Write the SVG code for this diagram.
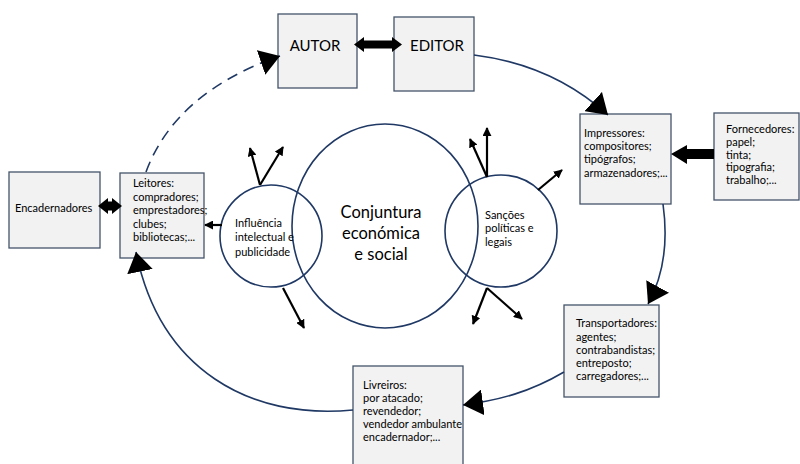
<svg xmlns="http://www.w3.org/2000/svg" width="800" height="464" viewBox="0 0 800 464">
  <defs>
    <style>
      .box { fill: #f2f2f2; stroke: #44546a; stroke-width: 1.3; }
      .ring { fill: none; stroke: #1f3864; stroke-width: 1.6; }
      .flow { fill: none; stroke: #1f3864; stroke-width: 1.6; }
      .ray { stroke: #000; stroke-width: 2.2; fill: none; marker-end: url(#tip); }
      .lbl { font-family: Lato, "Open Sans", "Liberation Sans", sans-serif; font-size: 11px; fill: #000; }
      .head { font-family: Lato, "Open Sans", "Liberation Sans", sans-serif; font-size: 15px; fill: #000; }
      .core { font-family: Lato, "Open Sans", "Liberation Sans", sans-serif; font-size: 16.5px; fill: #000; }
      .block { fill: #000; }
    </style>
    <marker id="tip" viewBox="0 0 10 10" refX="9" refY="5" markerWidth="9" markerHeight="9" markerUnits="userSpaceOnUse" orient="auto">
      <path d="M0,0 L10,5 L0,10 z" fill="#000"/>
    </marker>
    <marker id="big" viewBox="0 0 20 26" refX="20" refY="13" markerWidth="20" markerHeight="26" markerUnits="userSpaceOnUse" orient="auto">
      <path d="M0,0 L20,13 L0,26 z" fill="#000"/>
    </marker>
  </defs>

  <rect width="800" height="464" fill="#fff"/>

  <!-- circles -->
  <g id="conjuntura">
    <ellipse class="ring" cx="385" cy="226" rx="93" ry="102"/>
    <text class="core" text-anchor="middle"><tspan x="381" y="218">Conjuntura</tspan><tspan x="381" y="239">económica</tspan><tspan x="381" y="260">e social</tspan></text>
  </g>
  <g id="influencia">
    <circle class="ring" cx="271" cy="236" r="51"/>
    <text class="lbl"><tspan x="235" y="227">Influência</tspan><tspan x="235" y="241">intelectual e</tspan><tspan x="235" y="256">publicidade</tspan></text>
  </g>
  <g id="sancoes">
    <circle class="ring" cx="501" cy="231" r="56"/>
    <text class="lbl"><tspan x="485" y="219">Sanções</tspan><tspan x="485" y="232">políticas e</tspan><tspan x="485" y="246">legais</tspan></text>
  </g>

  <!-- boxes -->
  <g id="autor">
    <rect class="box" x="278" y="14" width="79" height="74"/>
    <text class="head" x="315" y="51" text-anchor="middle">AUTOR</text>
  </g>
  <g id="editor">
    <rect class="box" x="394" y="17" width="80" height="74"/>
    <text class="head" x="437" y="51" text-anchor="middle">EDITOR</text>
  </g>
  <g id="impressores">
    <rect class="box" x="580" y="114" width="91" height="90"/>
    <text class="lbl"><tspan x="584" y="137">Impressores:</tspan><tspan x="584" y="150">compositores;</tspan><tspan x="584" y="163">tipógrafos;</tspan><tspan x="584" y="177">armazenadores;...</tspan></text>
  </g>
  <g id="fornecedores">
    <rect class="box" x="714" y="113" width="85" height="87"/>
    <text class="lbl"><tspan x="726" y="133">Fornecedores:</tspan><tspan x="726" y="146">papel;</tspan><tspan x="726" y="159">tinta;</tspan><tspan x="726" y="171">tipografia;</tspan><tspan x="726" y="184">trabalho;...</tspan></text>
  </g>
  <g id="transportadores">
    <rect class="box" x="564" y="305" width="95" height="92"/>
    <text class="lbl"><tspan x="576" y="327">Transportadores:</tspan><tspan x="576" y="341">agentes;</tspan><tspan x="576" y="354">contrabandistas;</tspan><tspan x="576" y="367">entreposto;</tspan><tspan x="576" y="380">carregadores;...</tspan></text>
  </g>
  <g id="livreiros">
    <rect class="box" x="353" y="366" width="110" height="110"/>
    <text class="lbl"><tspan x="363" y="389">Livreiros:</tspan><tspan x="363" y="402">por atacado;</tspan><tspan x="363" y="415">revendedor;</tspan><tspan x="363" y="428">vendedor ambulante</tspan><tspan x="363" y="441">encadernador;...</tspan></text>
  </g>
  <g id="leitores">
    <rect class="box" x="120" y="173" width="84" height="85"/>
    <text class="lbl"><tspan x="133" y="187">Leitores:</tspan><tspan x="133" y="201">compradores;</tspan><tspan x="133" y="214">emprestadores;</tspan><tspan x="133" y="228">clubes;</tspan><tspan x="133" y="241">bibliotecas;...</tspan></text>
  </g>
  <g id="encadernadores">
    <rect class="box" x="9" y="172" width="91" height="76"/>
    <text class="lbl" x="15" y="212">Encadernadores</text>
  </g>

  <!-- connectors -->
  <g id="connectors">
    <path class="flow" d="M474,55 C530,62 575,85 608,115" marker-end="url(#big)"/>
    <path class="flow" d="M663,204 C668,240 664,275 648,304" marker-end="url(#big)"/>
    <path class="flow" d="M564,372 C530,392 500,400 463,405" marker-end="url(#big)"/>
    <path class="flow" d="M353,410 C250,420 160,370 136,252" marker-end="url(#big)"/>
    <path class="flow" d="M146,172 C165,120 210,80 280,56" stroke-dasharray="11 7" marker-end="url(#big)"/>

    <!-- block arrows -->
    <path class="block" d="M354,44.5 L364,37 L364,40.5 L392,40.5 L392,37 L402,44.5 L392,52 L392,48.5 L364,48.5 L364,52 z"/>
    <path class="block" d="M98,206 L108,198 L108,201.5 L112,201.5 L112,198 L122,206 L112,214 L112,210.5 L108,210.5 L108,214 z"/>
    <path class="block" d="M671,154 L687,145 L687,149 L714,149 L714,159 L687,159 L687,164 z"/>

    <!-- influence rays -->
    <line class="ray" x1="260" y1="185" x2="250" y2="148"/>
    <line class="ray" x1="260" y1="185" x2="283" y2="147"/>
    <line class="ray" x1="222" y1="225" x2="205" y2="225"/>
    <line class="ray" x1="283" y1="288" x2="304" y2="328"/>

    <!-- sanction rays -->
    <line class="ray" x1="487" y1="177" x2="487" y2="128"/>
    <line class="ray" x1="487" y1="177" x2="470" y2="139"/>
    <line class="ray" x1="538" y1="190" x2="562" y2="170"/>
    <line class="ray" x1="487" y1="288" x2="473" y2="324"/>
    <line class="ray" x1="487" y1="288" x2="522" y2="319"/>
  </g>
</svg>
